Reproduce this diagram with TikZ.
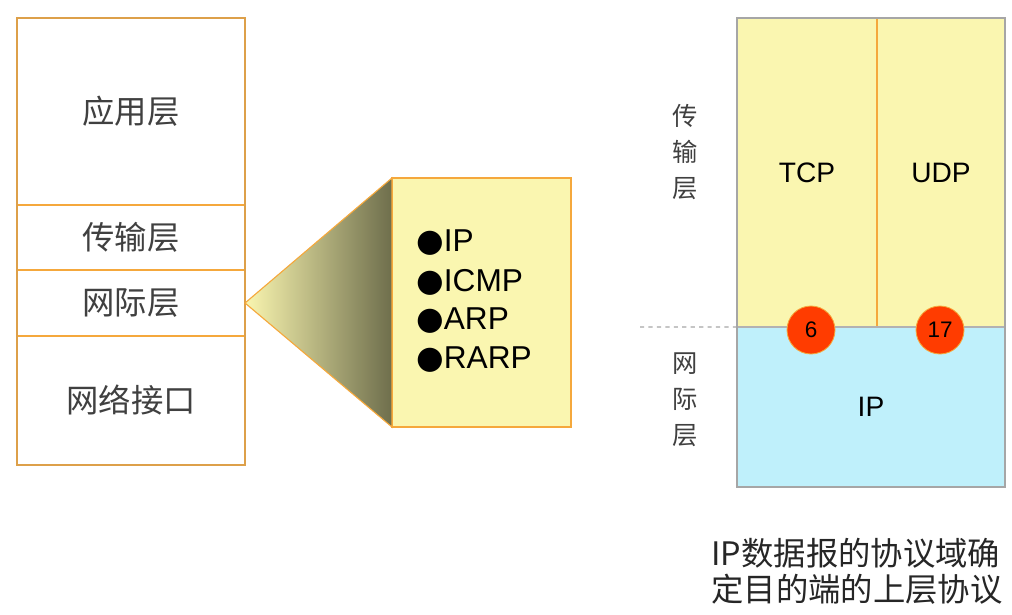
\documentclass[tikz,border=0pt]{standalone}
\usepackage{fontspec}
\setmainfont{Liberation Sans}
\newfontfamily\cjk{Noto Sans CJK SC}
\newfontfamily\symfont{DejaVu Sans}
\definecolor{edge}{HTML}{F5A83C}
\definecolor{paleyellow}{HTML}{FAF6B0}
\definecolor{paleblue}{HTML}{BFF0FB}
\definecolor{portred}{HTML}{FF3C00}
\definecolor{olive}{HTML}{6E6E4C}
\definecolor{cjkgray}{HTML}{404040}
\begin{document}
\begin{tikzpicture}[x=0.025cm,y=-0.025cm]
  \tikzset{layer/.style={shape=rectangle,draw=edge,fill=white,line width=0.8pt,
      minimum width=5.7cm,inner sep=0pt,outer sep=0pt,text=cjkgray,
      font=\cjk\fontsize{23}{28}\selectfont}};
  \tikzset{proto/.style={anchor=west,inner sep=0pt,font=\fontsize{22.5}{27}\selectfont}};
  \tikzset{region/.style={shape=rectangle,draw=edge,line width=0.8pt,inner sep=0pt,
      outer sep=0pt,font=\fontsize{20}{24}\selectfont}};
  \tikzset{port/.style={shape=circle,fill=portred,draw=edge,line width=0.6pt,
      minimum size=1.2cm,inner sep=0pt,font=\fontsize{16}{18}\selectfont}};
  \tikzset{vlabel/.style={align=center,text=cjkgray,
      font=\cjk\fontsize{18}{25.6}\selectfont}};
  \useasboundingbox (0,0) rectangle (1012,614);
  % TCP/IP stack
  \node[layer,minimum height=4.675cm](App) at (131,111.5){应用层};
  \node[layer,minimum height=1.625cm](Trans) at (131,237.5){传输层};
  \node[layer,minimum height=1.65cm](Inet) at (131,303){网际层};
  \node[layer,minimum height=3.225cm](Link) at (131,400.5){网络接口};
  \draw[draw=edge!80!gray,line width=1pt] (App.north west) rectangle (Link.south east);
  % protocols of the internet layer
  \node[region,fill=paleyellow,minimum width=4.475cm,minimum height=6.225cm](Proto) at (481.5,302.5){};
  \shade[left color=paleyellow,right color=olive,draw=edge,line width=0.8pt]
    (Inet.east) -- (Proto.north west) -- (Proto.south west) -- cycle;
  \foreach \name [count=\i] in {IP,ICMP,ARP,RARP}
    \node[proto](P\i) at (416,{204+39*\i}){{\symfont ●}\name};
  % protocol field of the IP datagram
  \node[region,fill=paleyellow,minimum width=3.5cm,minimum height=7.725cm](TCP) at (807,172.5){TCP};
  \node[region,fill=paleyellow,minimum width=3.2cm,minimum height=7.725cm](UDP) at (941,172.5){UDP};
  \node[region,fill=paleblue,draw=gray!60,minimum width=6.7cm,minimum height=4cm](IP) at (871,407){IP};
  \draw[gray!70,line width=1pt] (TCP.north west) rectangle (IP.south east);
  \coordinate (cut) at (640,327);
  \draw[gray!70,dashed,line width=0.8pt] (cut) -- (IP.north west);
  \node[port](Six) at (811,330){6};
  \node[port](Seventeen) at (940,330){17};
  \node[vlabel](TransV) at (685,152){传\\输\\层};
  \node[vlabel](InetV) at (685,400){网\\际\\层};
  \node[align=left,text=black!85,font=\cjk\fontsize{23}{25.6}\selectfont](Note) at (857,571)
    {IP数据报的协议域确\\定目的端的上层协议};
\end{tikzpicture}
\end{document}
